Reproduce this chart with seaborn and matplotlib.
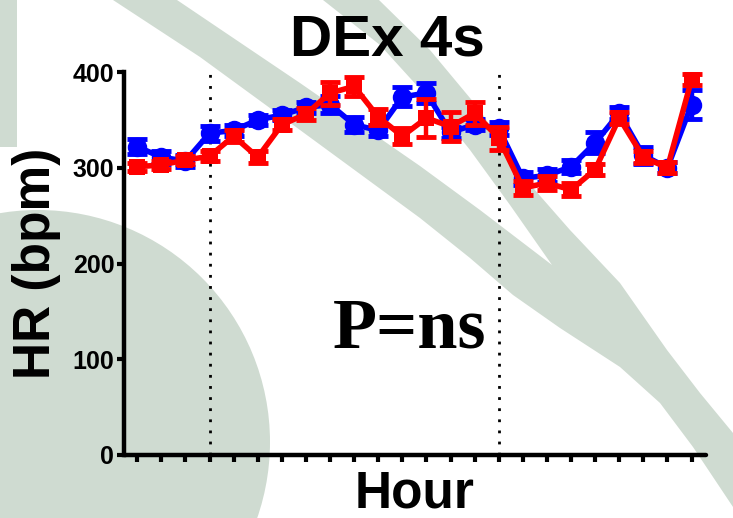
import matplotlib
matplotlib.use("Agg")
import matplotlib.pyplot as plt
import numpy as np
import pandas as pd
import seaborn as sns
from matplotlib.patches import Polygon, Circle, Rectangle

# Hourly heart rate, two groups (mean and SEM, bpm)
hours = list(range(24))
hr_blue = [322, 311, 307, 336, 339, 350, 355, 363, 366, 345, 339, 374, 378, 337, 345, 341,
           289, 292, 301, 326, 357, 313, 300, 366]
sem_blue = [8, 7, 6, 8, 6, 5, 5, 6, 9, 8, 6, 10, 10, 6, 6, 7,
            7, 7, 7, 11, 6, 9, 6, 15]
hr_red = [301, 303, 308, 312, 333, 311, 345, 356, 378, 385, 353, 333, 352, 343, 357, 331,
          279, 284, 277, 298, 352, 311, 300, 392]
sem_red = [4, 4, 4, 5, 6, 6, 6, 6, 12, 10, 8, 8, 20, 15, 12, 12,
           7, 7, 7, 6, 6, 6, 6, 6]
light_changes = [3, 15]
y_ticks = [0, 100, 200, 300, 400]
group_colors = {"A": "#0000ff", "B": "#ff0000"}

W, H = 733, 518
sns.set_style("ticks")
plt.rcParams["font.family"] = ["Liberation Sans", "DejaVu Sans"]
plt.rcParams.update({"text.color": "black", "axes.labelcolor": "black",
                     "xtick.color": "black", "ytick.color": "black",
                     "axes.edgecolor": "black"})
fig = plt.figure(figsize=(W / 100, H / 100), dpi=100)

# decorative backdrop drawn in pixel space
bg = fig.add_axes([0, 0, 1, 1], zorder=-5)
bg.set_xlim(0, W)
bg.set_ylim(H, 0)
bg.axis("off")
shade = "#cfdbd1"
bg.add_patch(Rectangle((0, 0), 17, 147, color=shade, lw=0))
bg.add_patch(Circle((38, 442), 232, color=shade, lw=0))
band = [(113, 0), (200, 57), (300, 130), (420, 218), (470, 258), (513, 295), (560, 328),
        (620, 367), (660, 403), (693, 447), (733, 507), (733, 433), (700, 393), (667, 350),
        (620, 283), (570, 230), (520, 173), (480, 110), (430, 50), (379, 0), (323, 0),
        (380, 45), (430, 100), (470, 150), (510, 205), (552, 265), (480, 210), (420, 166),
        (300, 83), (177, 0)]
bg.add_patch(Polygon(band, closed=True, color=shade, lw=0))

ax = fig.add_axes([124 / W, 1 - 455 / H, (706 - 124) / W, (455 - 72) / H])
ax.set_facecolor("none")

df = pd.DataFrame({
    "Hour": hours * 2,
    "HR": hr_blue + hr_red,
    "group": ["A"] * 24 + ["B"] * 24,
})

for i, (g, vals, errs) in enumerate([("A", hr_blue, sem_blue), ("B", hr_red, sem_red)]):
    ax.errorbar(hours, vals, yerr=errs, fmt="none", ecolor=group_colors[g],
                elinewidth=3.2, capsize=7.5, capthick=3.5, zorder=2 + 2 * i, clip_on=False)

sns.lineplot(data=df[df.group == "A"], x="Hour", y="HR", color=group_colors["A"],
             marker="o", markersize=14, markeredgewidth=0, linewidth=4, ax=ax,
             zorder=3, clip_on=False)
sns.lineplot(data=df[df.group == "B"], x="Hour", y="HR", color=group_colors["B"],
             marker="s", markersize=11.5, markeredgewidth=0, linewidth=4, ax=ax,
             zorder=5, clip_on=False)

for xc in light_changes:
    ax.axvline(xc, color="black", linestyle=(0, (1, 3)), linewidth=2, zorder=1)

ax.set_xlim(-0.55, 23.6)
ax.set_ylim(0, 400)
ax.set_xticks(hours)
ax.set_xticklabels([])
ax.set_yticks(y_ticks)
ax.set_yticklabels([str(v) for v in y_ticks], fontsize=18, fontweight="bold", color="black")
ax.tick_params(axis="x", direction="out", length=5, width=3, color="black")
ax.tick_params(axis="y", direction="out", length=5, width=3, color="black", pad=2)
for s in ["top", "right"]:
    ax.spines[s].set_visible(False)
for s in ["left", "bottom"]:
    ax.spines[s].set_linewidth(3.2)
    ax.spines[s].set_color("black")
ax.spines["bottom"].set_capstyle("round")

ax.set_xlabel("Hour", fontsize=37, fontweight="bold", labelpad=2, color="black")
ax.set_ylabel("HR (bpm)", fontsize=37, fontweight="bold", labelpad=8, color="black")

fig.text(387 / W, 1 - 55 / H, "DEx 4s", fontsize=42, fontweight="bold",
         ha="center", va="baseline", color="black")
fig.text(410 / W, 1 - 347 / H, "P=ns", fontsize=52, fontweight="bold",
         family=["Liberation Serif", "DejaVu Serif"], ha="center", va="baseline",
         color="black")

fig.savefig("out.png", dpi=100)
